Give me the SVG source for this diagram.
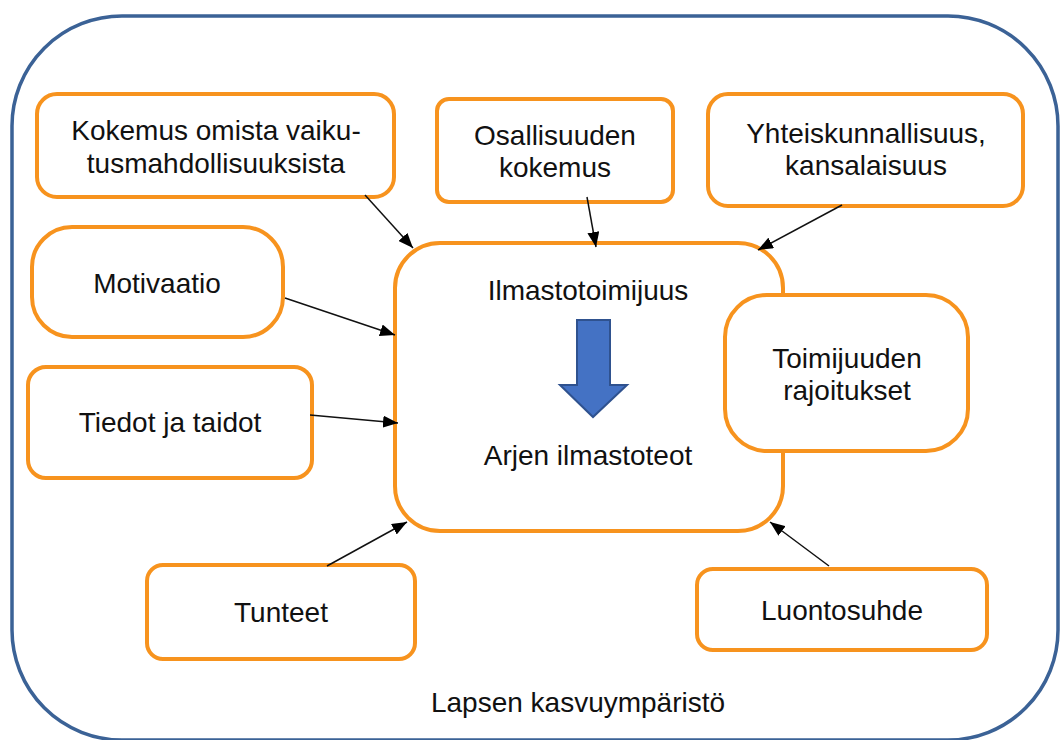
<svg xmlns="http://www.w3.org/2000/svg" width="1060" height="740" viewBox="0 0 1060 740">
<defs>
<style>
.box{fill:#fff;stroke:#F7931E;stroke-width:4}
.t{font-family:"Liberation Sans",Arial,sans-serif;font-size:28px;fill:#111;text-anchor:middle}
.c{stroke:#111;stroke-width:1.5;fill:none;marker-end:url(#ah)}
</style>
<marker id="ah" viewBox="0 0 10 8" markerWidth="10" markerHeight="8" refX="10" refY="4" orient="auto" markerUnits="strokeWidth">
<path d="M0,0 L10,4 L0,8 Z" fill="#000"/>
</marker>
</defs>
<rect width="1060" height="740" fill="#fff"/>
<g id="environment">
<rect x="12" y="16" width="1046" height="724" rx="110" fill="#fff" stroke="#3B6296" stroke-width="3.5"/>
<text class="t" x="578" y="712">Lapsen kasvuympäristö</text>
</g>
<g id="central">
<rect class="box" x="395" y="243" width="388" height="288" rx="45"/>
<text class="t" x="588" y="300">Ilmastotoimijuus</text>
<polygon points="577,320 610,320 610,385 627,385 593,417 560,385 577,385" fill="#4472C4" stroke="#2F528F" stroke-width="2"/>
<text class="t" x="588" y="465">Arjen ilmastoteot</text>
</g>
<g id="rajoitukset">
<rect class="box" x="725" y="295" width="243" height="156" rx="42"/>
<text class="t" x="847" y="368">Toimijuuden</text>
<text class="t" x="847" y="400">rajoitukset</text>
</g>
<g id="kokemus">
<rect class="box" x="37" y="94" width="357" height="103" rx="20"/>
<text class="t" x="216" y="140">Kokemus omista vaiku-</text>
<text class="t" x="216" y="173">tusmahdollisuuksista</text>
</g>
<g id="osallisuus">
<rect class="box" x="437" y="99" width="236" height="103" rx="12"/>
<text class="t" x="555" y="145">Osallisuuden</text>
<text class="t" x="555" y="177">kokemus</text>
</g>
<g id="yhteiskunnallisuus">
<rect class="box" x="708" y="94" width="315" height="112" rx="20"/>
<text class="t" x="866" y="143">Yhteiskunnallisuus,</text>
<text class="t" x="866" y="175">kansalaisuus</text>
</g>
<g id="motivaatio">
<rect class="box" x="32" y="227" width="251" height="110" rx="40"/>
<text class="t" x="157" y="293">Motivaatio</text>
</g>
<g id="tiedot">
<rect class="box" x="28" y="367" width="284" height="111" rx="18"/>
<text class="t" x="170" y="432">Tiedot ja taidot</text>
</g>
<g id="tunteet">
<rect class="box" x="147" y="565" width="268" height="94" rx="16"/>
<text class="t" x="281" y="622">Tunteet</text>
</g>
<g id="luontosuhde">
<rect class="box" x="697" y="569" width="290" height="81" rx="16"/>
<text class="t" x="842" y="620">Luontosuhde</text>
</g>
<g id="connectors">
<line class="c" x1="365" y1="195" x2="413" y2="248"/>
<line class="c" x1="587" y1="197" x2="596" y2="247"/>
<line class="c" x1="842" y1="205" x2="758" y2="250"/>
<line class="c" x1="285" y1="298" x2="395" y2="335"/>
<line class="c" x1="310" y1="415" x2="398" y2="423"/>
<line class="c" x1="327" y1="566" x2="407" y2="522"/>
<line class="c" x1="829" y1="566" x2="770" y2="522"/>
</g>
</svg>
